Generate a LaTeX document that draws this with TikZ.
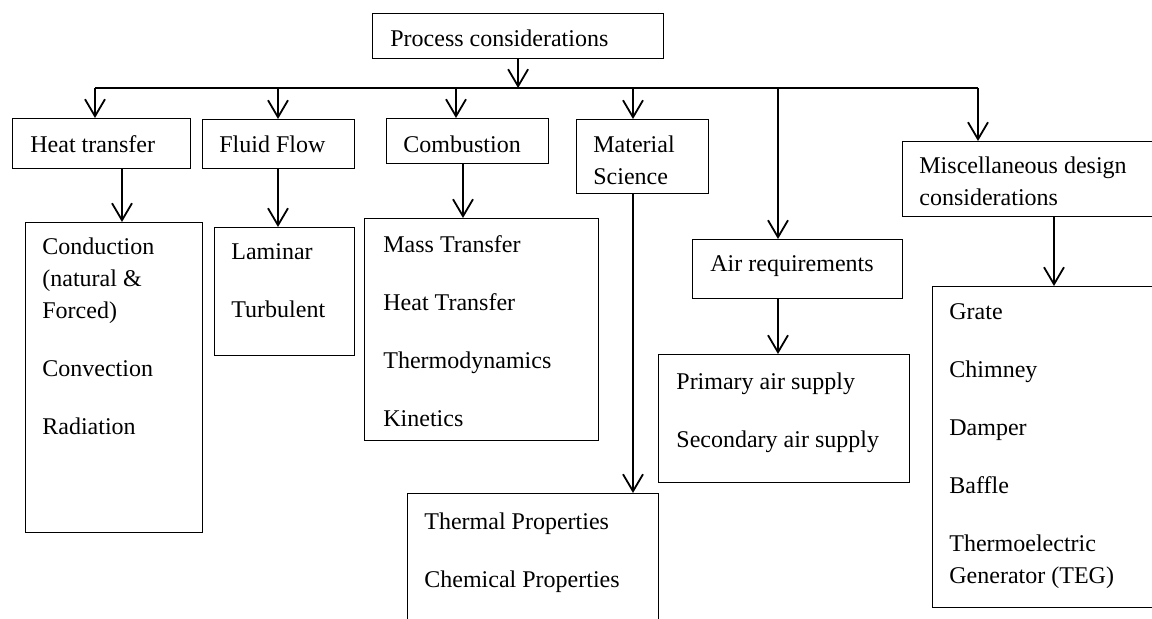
\documentclass[tikz,border=0pt]{standalone}
\usepackage{fontspec}
\setmainfont{Liberation Serif}
\usetikzlibrary{arrows.meta}

\begin{document}
\begin{tikzpicture}[x=0.5pt,y=-0.5pt,
  box/.style={draw,line width=0.6pt,anchor=north west,inner sep=0pt},
  txt/.style={anchor=north west,inner sep=0pt,align=left,font=\fontsize{12}{16}\selectfont},
  arr/.style={line width=0.9pt,-{Straight Barb[length=8.5pt,width=10pt]}}]
\useasboundingbox (0,0) rectangle (1152,619);
\clip (0,0) rectangle (1152,619);
% boxes
\node [box,minimum width=145.5pt,minimum height=22.5pt] (proc) at (372,13) {};
\node [box,minimum width=89pt,minimum height=25pt] (heat) at (12,118) {};
\node [box,minimum width=76pt,minimum height=24.5pt] (fluid) at (202,119) {};
\node [box,minimum width=81pt,minimum height=22.5pt] (comb) at (386,118) {};
\node [box,minimum width=66pt,minimum height=37pt] (mat) at (576,119) {};
\node [box,minimum width=134pt,minimum height=37.5pt] (misc) at (902,141) {};
\node [box,minimum width=88.5pt,minimum height=155pt] (cond) at (25,222) {};
\node [box,minimum width=70pt,minimum height=64pt] (lam) at (214,227) {};
\node [box,minimum width=117pt,minimum height=111pt] (mass) at (364,218) {};
\node [box,minimum width=125.5pt,minimum height=73.5pt] (therm) at (407,493) {};
\node [box,minimum width=105pt,minimum height=29.5pt] (air) at (692,239) {};
\node [box,minimum width=125.5pt,minimum height=64pt] (prim) at (658,354) {};
\node [box,minimum width=119pt,minimum height=160.5pt] (grate) at (932,286) {};
% texts
\node [txt] (procT) at ([shift={(18,16)}]proc.north west) {Process considerations};
\node [txt] (heatT) at ([shift={(18,17)}]heat.north west) {Heat transfer};
\node [txt] (fluidT) at ([shift={(17,16)}]fluid.north west) {Fluid Flow};
\node [txt] (combT) at ([shift={(17,17)}]comb.north west) {Combustion};
\node [txt] (matT) at ([shift={(17,16)}]mat.north west) {Material\\Science};
\node [txt] (miscT) at ([shift={(17,15)}]misc.north west) {Miscellaneous design\\considerations};
\node [txt] (condT) at ([shift={(17,15)}]cond.north west)
  {Conduction\\(natural \&\\Forced)\\[13pt]Convection\\[13pt]Radiation};
\node [txt] (lamT) at ([shift={(17,16)}]lam.north west) {Laminar\\[13pt]Turbulent};
\node [txt] (massT) at ([shift={(19,17)}]mass.north west)
  {Mass Transfer\\[13pt]Heat Transfer\\[13pt]Thermodynamics\\[13pt]Kinetics};
\node [txt] (thermT) at ([shift={(17,19)}]therm.north west) {Thermal Properties\\[13pt]Chemical Properties};
\node [txt] (airT) at ([shift={(18,16)}]air.north west) {Air requirements};
\node [txt] (primT) at ([shift={(18,18)}]prim.north west) {Primary air supply\\[13pt]Secondary air supply};
\node [txt] (grateT) at ([shift={(17,17)}]grate.north west)
  {Grate\\[13pt]Chimney\\[13pt]Damper\\[13pt]Baffle\\[13pt]Thermoelectric\\Generator (TEG)};
% bus and first level arrows
\coordinate (busL) at (95,88);
\coordinate (busR) at (978,88);
\coordinate (bFluid) at (278,88);
\coordinate (bComb) at (456,88);
\coordinate (bMat) at (633,88);
\coordinate (bAir) at (778,88);
\draw [line width=0.9pt] (busL) -- (busR);
\draw [arr] (proc.south) -- (proc.south |- busL);
\draw [arr] (busL) -- (busL |- heat.north);
\draw [arr] (bFluid) -- (bFluid |- fluid.north);
\draw [arr] (bComb) -- (bComb |- comb.north);
\draw [arr] (bMat) -- (bMat |- mat.north);
\draw [arr] (bAir) -- (bAir |- air.north);
\draw [arr] (busR) -- (busR |- misc.north);
% second level arrows
\coordinate (kHeat) at (122,0);
\coordinate (kComb) at (463,0);
\coordinate (kMisc) at (1054,0);
\draw [arr] (heat.south -| kHeat) -- (cond.north -| kHeat);
\draw [arr] (fluid.south -| bFluid) -- (lam.north -| bFluid);
\draw [arr] (comb.south -| kComb) -- (mass.north -| kComb);
\draw [arr] (mat.south -| bMat) -- (therm.north -| bMat);
\draw [arr] (air.south -| bAir) -- (prim.north -| bAir);
\draw [arr] (misc.south -| kMisc) -- (grate.north -| kMisc);
\end{tikzpicture}
\end{document}
